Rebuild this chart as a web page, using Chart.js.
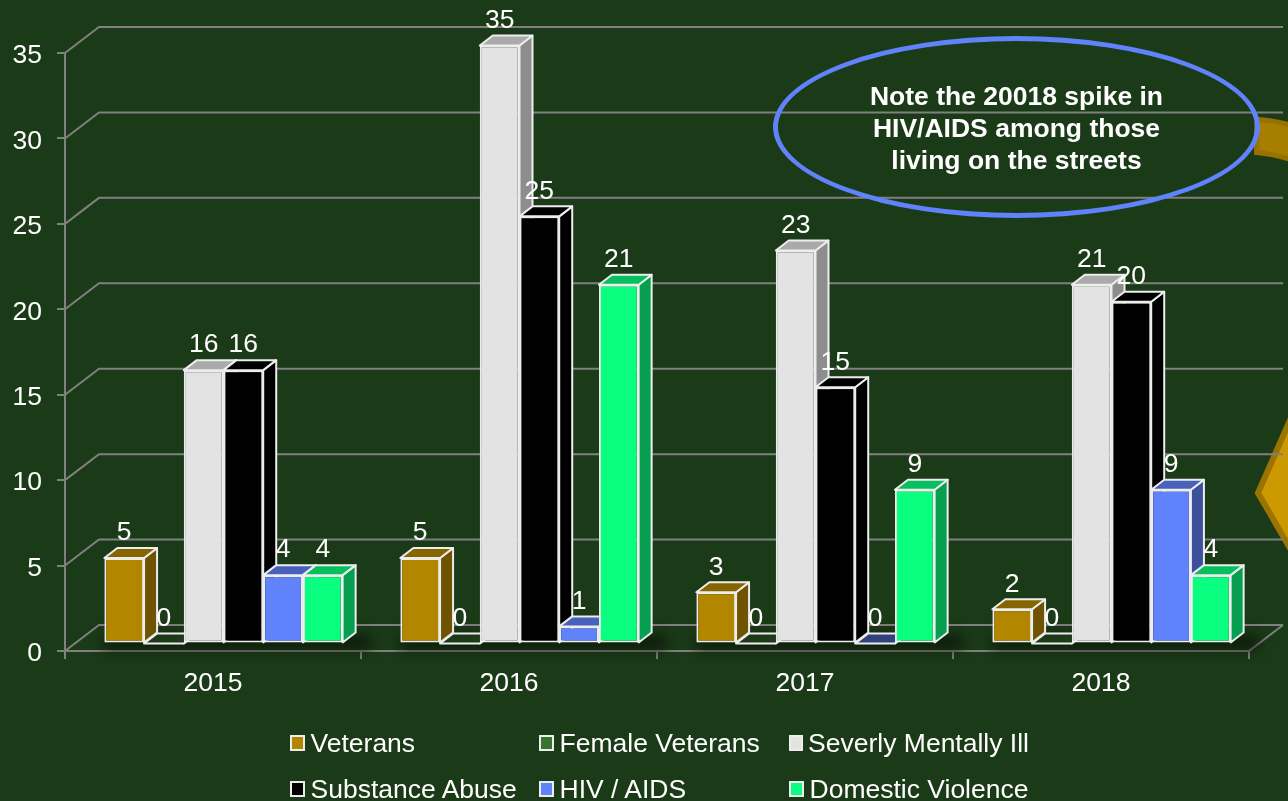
<!DOCTYPE html>
<html>
<head>
    <meta http-equiv="Content-Type" content="text/html; charset=utf-8"/>
    <title>Chart</title>
    <style>
        html, body { margin: 0; padding: 0; background: #1B3A17; overflow: hidden; }
        body { position: relative; width: 1288px; height: 801px; font-family: "Liberation Sans", Arial, sans-serif; color: #fff; }
        #deco { position: absolute; left: 0; top: 0; }
        #bars { position: absolute; left: 0; top: 0; }
        #note {
            position: absolute; left: 773px; top: 36px; width: 477px; height: 172px;
            border: 5px solid #6082FA; border-radius: 50%;
            display: flex; align-items: center; justify-content: center;
            text-align: center; font-size: 26.5px; font-weight: bold; line-height: 32px;
        }
        #note span { position: relative; top: 1px; }
        #legend {
            position: absolute; left: 290px; top: 720px;
            display: grid; grid-template-columns: 249px 250px 240px; grid-auto-rows: 46px;
            font-size: 26.5px; line-height: 46px;
        }
        #legend div { display: flex; align-items: center; white-space: nowrap; }
        #legend i { display: block; box-sizing: border-box; width: 15px; height: 16px; margin-right: 5.5px; border: 2px solid #EDEDED; }
    </style>
</head>
<body>
<svg id="deco" width="1288" height="801">
    <path d="M1257 119.5 Q1274 120.5 1292 125.5 L1292 160 Q1274 154 1256.5 152.5 Z" fill="#A67E00" stroke="#977200" stroke-width="5"/>
    <polygon points="1258,493 1294,411 1294,555" fill="#CC9900" stroke="#9A7400" stroke-width="6"/>
</svg>
<canvas id="bars" width="1288" height="801"></canvas>
<div id="note"><span>Note the 20018 spike in<br>HIV/AIDS among those<br>living on the streets</span></div>
<div id="legend"></div>

<script src="https://cdn.jsdelivr.net/npm/chart.js@4"></script>
<script>
    var years = ['2015', '2016', '2017', '2018'];
    var veterans = [5, 5, 3, 2];
    var femaleVeterans = [0, 0, 0, 0];
    var mentallyIll = [16, 35, 23, 21];
    var substanceAbuse = [16, 25, 15, 20];
    var hivAids = [4, 1, 0, 9];
    var domesticViolence = [4, 21, 9, 4];

    var seriesNames = ['Veterans', 'Female Veterans', 'Severly Mentally Ill', 'Substance Abuse', 'HIV / AIDS', 'Domestic Violence'];
    var seriesValues = [veterans, femaleVeterans, mentallyIll, substanceAbuse, hivAids, domesticViolence];
    var seriesColors = ['#B38600', '#3A7230', '#E3E3E3', '#000000', '#6082FA', '#0AFF80'];

    var yMax = 35;
    var yStep = 5;

    var edge = '#EDEDED';
    var gridColor = '#808080';
    var font = '"Liberation Sans", Arial, sans-serif';
    var fontSize = 26.5;
    var barShift = {x: 10.5, y: -7.5};   // bars stand a bit inside the floor
    var barDepth = {x: 13, y: -10};
    var wallDepth = {x: 34, y: -26};

    function shade(hex, k) {
        var n = parseInt(hex.slice(1), 16);
        var r = Math.round((n >> 16 & 255) * k), g = Math.round((n >> 8 & 255) * k), b = Math.round((n & 255) * k);
        return 'rgb(' + r + ',' + g + ',' + b + ')';
    }

    function poly(ctx, pts, fill, stroke) {
        ctx.beginPath();
        pts.forEach(function (p, i) { i ? ctx.lineTo(p[0], p[1]) : ctx.moveTo(p[0], p[1]); });
        ctx.closePath();
        ctx.fillStyle = fill;
        ctx.fill();
        if (stroke) { ctx.strokeStyle = stroke; ctx.lineWidth = 2; ctx.lineJoin = 'round'; ctx.stroke(); }
    }

    var box3d = {
        id: 'box3d',
        beforeDraw: function (chart) {
            // y tick labels sit a little under the tick mark
            chart.scales.y.getLabelItems().forEach(function (item) {
                item.options.translation[1] += 3;
            });
        },
        beforeDatasetsDraw: function (chart) {
            var ctx = chart.ctx, xs = chart.scales.x, ys = chart.scales.y;
            var left = xs.left, right = xs.right;

            // back wall lines
            ctx.save();
            ctx.strokeStyle = gridColor;
            ctx.lineWidth = 2;
            ys.ticks.forEach(function (t) {
                var y = ys.getPixelForValue(t.value);
                ctx.beginPath();
                ctx.moveTo(left, y);
                ctx.lineTo(left + wallDepth.x, y + wallDepth.y);
                ctx.lineTo(right + wallDepth.x, y + wallDepth.y);
                ctx.stroke();
            });
            var y0 = ys.getPixelForValue(0);
            ctx.beginPath();
            ctx.moveTo(right, y0);
            ctx.lineTo(right + wallDepth.x, y0 + wallDepth.y);
            ctx.stroke();
            ctx.restore();

            // soft shadow on the floor
            var first = chart.getDatasetMeta(0).data, last = chart.getDatasetMeta(seriesNames.length - 1).data;
            ctx.save();
            ctx.filter = 'blur(7px)';
            ctx.fillStyle = 'rgba(8,18,5,0.8)';
            years.forEach(function (y, i) {
                var a = first[i].x - first[i].width / 2 + barShift.x, b = last[i].x + last[i].width / 2 + barShift.x + barDepth.x + 15;
                ctx.fillRect(a, y0 + barShift.y + barDepth.y + 2, b - a, -barDepth.y + 4);
            });
            ctx.restore();

            // left to right so that each bar covers the side of the one before
            seriesNames.forEach(function (name, s) {
                var meta = chart.getDatasetMeta(s);
                ctx.save();
                ctx.translate(barShift.x, barShift.y);
                meta.data.forEach(function (bar, i) {
                    var l = bar.x - bar.width / 2, r = bar.x + bar.width / 2, t = bar.y, b = bar.base;
                    var dx = barDepth.x, dy = barDepth.y, v = seriesValues[s][i];
                    poly(ctx, [[r, t], [r + dx, t + dy], [r + dx, b + dy], [r, b]], shade(seriesColors[s], 0.62), edge);
                    poly(ctx, [[l, t], [l + dx, t + dy], [r + dx, t + dy], [r, t]], shade(seriesColors[s], v === 0 ? 0.5 : 0.75), edge);
                });
                meta.controller.draw();
                ctx.restore();
            });
            return false;
        },
        afterDraw: function (chart) {
            var ctx = chart.ctx;
            ctx.save();
            ctx.fillStyle = '#fff';
            ctx.font = fontSize + 'px ' + font;
            ctx.textAlign = 'center';
            ctx.textBaseline = 'middle';
            seriesNames.forEach(function (name, s) {
                chart.getDatasetMeta(s).data.forEach(function (bar, i) {
                    ctx.fillText(seriesValues[s][i], bar.x + barShift.x, bar.y + barShift.y - 25);
                });
            });
            ctx.restore();
        }
    };

    var datasets = seriesNames.map(function (name, s) {
        return {
            label: name,
            data: seriesValues[s],
            backgroundColor: seriesColors[s],
            borderColor: edge,
            borderWidth: 2,
            borderSkipped: false,
            categoryPercentage: 0.805,
            barPercentage: 1
        };
    });

    var chart = new Chart(document.getElementById('bars').getContext('2d'), {
        type: 'bar',
        data: {labels: years, datasets: datasets},
        plugins: [box3d],
        options: {
            responsive: false,
            animation: false,
            layout: {padding: {top: 53, right: 39, left: 0, bottom: 0}},
            plugins: {legend: {display: false}, tooltip: {enabled: false}},
            scales: {
                x: {
                    afterFit: function (scale) { scale.height = 150; },
                    grid: {drawOnChartArea: false, color: gridColor, lineWidth: 2, tickLength: 8},
                    border: {color: gridColor, width: 2},
                    ticks: {color: '#fff', font: {family: font, size: fontSize}, padding: 9, maxRotation: 0}
                },
                y: {
                    min: 0,
                    max: yMax,
                    afterFit: function (scale) { scale.width = 65; },
                    grid: {drawOnChartArea: false, color: gridColor, lineWidth: 2, tickLength: 8},
                    border: {color: gridColor, width: 2},
                    ticks: {stepSize: yStep, color: '#fff', font: {family: font, size: fontSize}, padding: 15}
                }
            }
        }
    });

    // columns of the legend line up, which the built-in one can't do
    var legend = document.getElementById('legend');
    Chart.defaults.plugins.legend.labels.generateLabels(chart).forEach(function (item) {
        var row = document.createElement('div');
        var box = document.createElement('i');
        box.style.background = item.fillStyle;
        row.appendChild(box);
        row.appendChild(document.createTextNode(item.text));
        legend.appendChild(row);
    });
</script>
</body>
</html>
